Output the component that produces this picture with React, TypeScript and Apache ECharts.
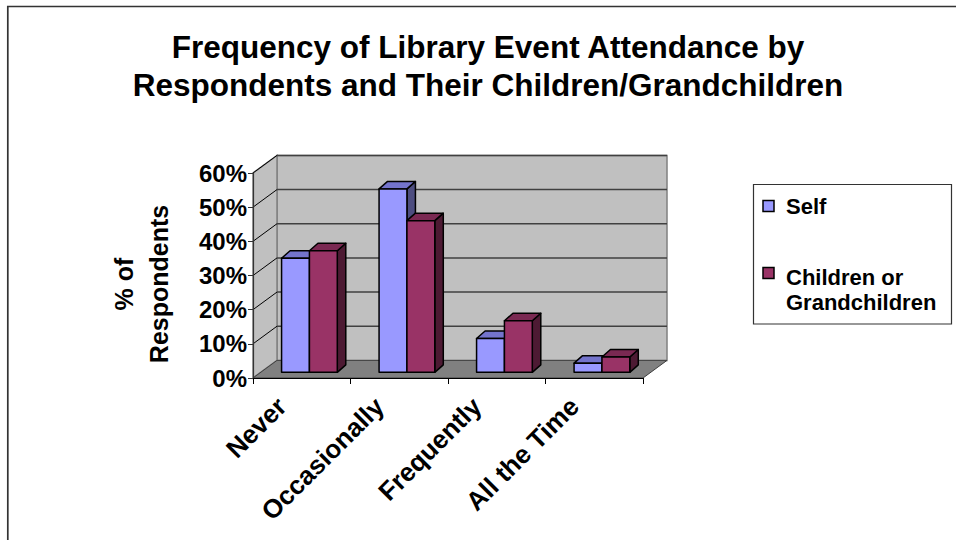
import React, { useEffect, useRef } from "react";
import * as echarts from "echarts";

const categories = ["Never", "Occasionally", "Frequently", "All the Time"];
const selfValues = [0.334, 0.537, 0.099, 0.027];
const childValues = [0.356, 0.444, 0.151, 0.045];
const seriesNames = ["Self", "Children or\nGrandchildren"];
const yMin = 0;
const yMax = 0.6;
const yStep = 0.1;

const FONT = '"Liberation Sans", Arial, sans-serif';
const DX = 24; // wall depth offset
const DY = -17.6;
const F1 = 0.32; // bar front depth fraction
const BDX = 8.5; // bar depth
const BDY = -7.5;
const LABEL_SHIFT = 20;

const palette = [
  { front: "#9999FF", top: "#7474CC", side: "#4D4D80" },
  { front: "#993366", top: "#7A2952", side: "#4D1A33" },
];

function renderWalls(params: any, api: any) {
  const cs = params.coordSys;
  const x0 = cs.x;
  const x1 = cs.x + cs.width;
  const yt = cs.y;
  const yb = cs.y + cs.height;
  const children: any[] = [];
  children.push({
    type: "polygon",
    shape: { points: [[x0 + DX, yb + DY], [x1 + DX, yb + DY], [x1 + DX, yt + DY], [x0 + DX, yt + DY]] },
    style: { fill: "#C0C0C0", stroke: "#808080", lineWidth: 1.5 },
  });
  children.push({
    type: "polygon",
    shape: { points: [[x0, yb], [x0, yt], [x0 + DX, yt + DY], [x0 + DX, yb + DY]] },
    style: { fill: "#C0C0C0", stroke: "#808080", lineWidth: 1.5 },
  });
  children.push({
    type: "polygon",
    shape: { points: [[x0, yb], [x1, yb], [x1 + DX, yb + DY], [x0 + DX, yb + DY]] },
    style: { fill: "#808080", stroke: "#404040", lineWidth: 1 },
  });
  for (let v = yMin + yStep; v <= yMax + 1e-9; v += yStep) {
    const y = api.coord([0, v])[1];
    children.push({
      type: "line",
      shape: { x1: x0 + DX, y1: y + DY, x2: x1 + DX, y2: y + DY },
      style: { stroke: "#404040", lineWidth: 1.5 },
    });
    children.push({
      type: "line",
      shape: { x1: x0, y1: y, x2: x0 + DX, y2: y + DY },
      style: { stroke: "#000", lineWidth: 1 },
    });
  }
  return { type: "group", children };
}

function makeBarRenderer(s: number) {
  return function (params: any, api: any) {
    const i = api.value(0);
    const v = api.value(1);
    const band = api.size([1, 0])[0];
    const cx = api.coord([i, 0])[0];
    const w = band / 3.5;
    const ox = F1 * DX;
    const oy = F1 * DY;
    const xa = cx - w + s * w + ox;
    const xb = xa + w;
    const yb = api.coord([i, 0])[1] + oy;
    const yt = api.coord([i, v])[1] + oy;
    const c = palette[s];
    const st = { stroke: "#000", lineWidth: 1.5, lineJoin: "round" };
    return {
      type: "group",
      children: [
        {
          type: "polygon",
          shape: { points: [[xb, yt], [xb, yb], [xb + BDX, yb + BDY], [xb + BDX, yt + BDY]] },
          style: { ...st, fill: c.side },
        },
        {
          type: "polygon",
          shape: { points: [[xa, yt], [xb, yt], [xb + BDX, yt + BDY], [xa + BDX, yt + BDY]] },
          style: { ...st, fill: c.top },
        },
        {
          type: "rect",
          shape: { x: xa, y: yt, width: w, height: yb - yt },
          style: { ...st, fill: c.front },
        },
      ],
    };
  };
}

export default function App() {
  const ref = useRef<HTMLDivElement>(null);
  useEffect(() => {
    if (!ref.current) return;
    const chart = echarts.init(ref.current, null, { renderer: "svg" });
    const option: any = {
      animation: false,
      backgroundColor: "#fff",
      grid: [
        { left: 253, top: 173, right: 956 - 643, bottom: 540 - 378, containLabel: false },
        { left: 253 - LABEL_SHIFT, top: 173, right: 956 - 643 + LABEL_SHIFT, bottom: 540 - 378, containLabel: false },
      ],
      xAxis: [
        {
          type: "category",
          gridIndex: 0,
          data: categories,
          boundaryGap: true,
          z: 5,
          axisLine: { show: true, lineStyle: { color: "#000", width: 1.2 } },
          axisTick: { show: true, length: 6, lineStyle: { color: "#000" } },
          axisLabel: { show: false },
          splitLine: { show: false },
        },
        {
          type: "category",
          gridIndex: 1,
          data: categories,
          boundaryGap: true,
          axisLine: { show: false },
          axisTick: { show: false },
          axisLabel: {
            rotate: 45,
            margin: 24,
            fontSize: 26,
            fontWeight: "bold",
            fontFamily: FONT,
            color: "#000",
          },
          splitLine: { show: false },
        },
      ],
      yAxis: [
        {
          type: "value",
          gridIndex: 0,
          min: yMin,
          max: yMax,
          interval: yStep,
          z: 5,
          axisLine: { show: true, lineStyle: { color: "#333", width: 1.2 } },
          axisTick: { show: true, length: 5, lineStyle: { color: "#333" } },
          axisLabel: {
            margin: 6,
            fontSize: 24,
            fontWeight: "bold",
            fontFamily: FONT,
            color: "#000",
            formatter: (v: number) => Math.round(v * 100) + "%",
          },
          splitLine: { show: false },
        },
        {
          type: "value",
          gridIndex: 1,
          min: yMin,
          max: yMax,
          interval: yStep,
          show: false,
        },
      ],
      series: [
        {
          type: "custom",
          name: "walls",
          renderItem: renderWalls,
          data: [[0, 0]],
          encode: { x: 0, y: 1 },
          z: 1,
          silent: true,
        },
        {
          type: "custom",
          name: seriesNames[0],
          renderItem: makeBarRenderer(0),
          data: categories.map((_, i) => [i, selfValues[i]]),
          encode: { x: 0, y: 1 },
          z: 3,
        },
        {
          type: "custom",
          name: seriesNames[1],
          renderItem: makeBarRenderer(1),
          data: categories.map((_, i) => [i, childValues[i]]),
          encode: { x: 0, y: 1 },
          z: 3,
        },
      ],
      graphic: [
        {
          type: "rect",
          shape: { x: 7.8, y: 6.5, width: 1100, height: 700 },
          style: { fill: "none", stroke: "#333", lineWidth: 1.7 },
          z: 100,
        },
        {
          type: "text",
          x: 488,
          y: 66,
          style: {
            text: "Frequency of Library Event Attendance by\nRespondents and Their Children/Grandchildren",
            fontSize: 31.5,
            fontWeight: "bold",
            fontFamily: FONT,
            fill: "#000",
            align: "center",
            verticalAlign: "middle",
            lineHeight: 37.5,
          },
        },
        {
          type: "text",
          x: 141,
          y: 284,
          rotation: Math.PI / 2,
          style: {
            text: "% of\nRespondents",
            fontSize: 25,
            fontWeight: "bold",
            fontFamily: FONT,
            fill: "#000",
            align: "center",
            verticalAlign: "middle",
            lineHeight: 35,
          },
        },
        {
          type: "rect",
          shape: { x: 753.5, y: 184.5, width: 198, height: 139.5 },
          style: { fill: "#fff", stroke: "#333", lineWidth: 1.2 },
        },
        {
          type: "rect",
          shape: { x: 763, y: 200.5, width: 11, height: 11 },
          style: { fill: palette[0].front, stroke: "#000", lineWidth: 1.5 },
        },
        {
          type: "text",
          x: 786,
          y: 206,
          style: {
            text: seriesNames[0],
            fontSize: 22,
            fontWeight: "bold",
            fontFamily: FONT,
            fill: "#000",
            align: "left",
            verticalAlign: "middle",
          },
        },
        {
          type: "rect",
          shape: { x: 763, y: 267.5, width: 11, height: 11 },
          style: { fill: palette[1].front, stroke: "#000", lineWidth: 1.5 },
        },
        {
          type: "text",
          x: 786,
          y: 289.5,
          style: {
            text: seriesNames[1],
            fontSize: 22,
            fontWeight: "bold",
            fontFamily: FONT,
            fill: "#000",
            align: "left",
            verticalAlign: "middle",
            lineHeight: 25,
          },
        },
      ],
    };
    chart.setOption(option);
    return () => chart.dispose();
  }, []);
  return (
    <div
      ref={ref}
      style={{ position: "absolute", left: 0, top: 0, width: 956, height: 540 }}
    />
  );
}
